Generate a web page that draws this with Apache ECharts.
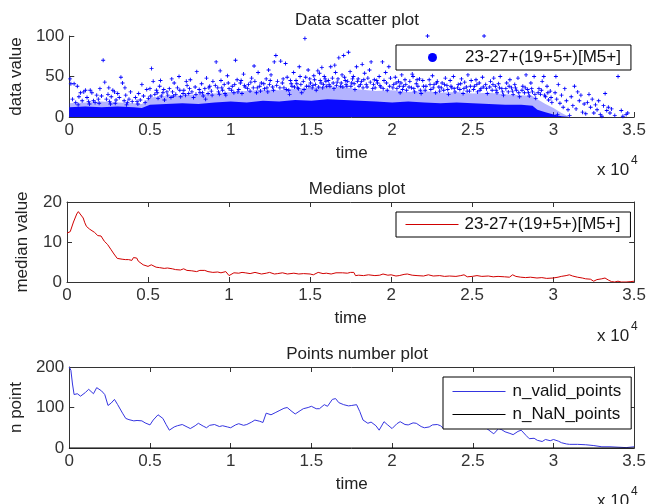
<!DOCTYPE html>
<html><head><meta charset="utf-8">
<script src="https://cdn.jsdelivr.net/npm/echarts@6/dist/echarts.min.js"></script>
<style>html,body{margin:0;padding:0;background:#fff}#c{width:649px;height:504px}</style>
</head><body><div id="c"></div>
<script>
// ---------- data ----------
const seriesLabel = '23-27+(19+5+)[M5+]';
const titles = ['Data scatter plot', 'Medians plot', 'Points number plot'];
const yNames = ['data value', 'median value', 'n point'];
const xName = 'time';

// dense lower cloud of the scatter (read as envelopes of the solid / speckled blue band)
const bandT    = [0,1000,2000,3000,4000,4500,5000,6000,7000,8000,9000,10000,11000,12000,13000,14000,15000,16000,17000,18000,19000,20000,21000,22000,23000,24000,25000,26000,27000,28000,28700,29000,29500,30000,30500,31000];
const bandCore = [12,13,12,13,12,11,15,16,17,16,18,19,18,20,19,21,20,22,21,20,19,18,19,18,17,18,17,16,15,15,14,9,6,3,1,0];
const bandHalo = [17,18,19,18,17,16,24,26,27,28,29,31,32,34,33,35,36,38,37,34,32,33,31,32,30,31,29,30,28,27,26,22,16,11,5,0];

// individual scattered points [time, value]
const scatterPts = [
[50,47],[100,41],[300,41],[500,38],[200,22],[700,30],[900,31],[400,18],[800,20],[600,25],[1000,33],
[1100,24],[1300,33],[1400,30],[1500,20],[1700,27],[1800,22],[2000,26],[1200,19],[1600,18],[1900,35],
[2100,70],[2200,43],[3000,29],[3200,49],[3300,42],[2800,31],
[2300,22],[2400,28],[2500,19],[2600,25],[2700,33],[2900,21],[2450,36],[2850,17],
[3100,24],[3400,20],[3500,27],[3600,18],[3700,22],[3800,31],[3900,19],[3450,36],
[4100,24],[4200,19],[4300,29],[4400,21],[4600,26],[4700,18],[4800,34],[4900,23],[4500,40],
[5100,60],[5200,44],[5000,35],
[5300,28],[5400,33],[5500,23],[5600,38],[5700,26],[5800,30],[5900,21],[5650,45],
[6800,50],[6100,27],[6200,35],[6300,24],[6400,31],[6500,42],[6600,28],[6700,36],[6900,25],[6350,47],
[7100,33],[7200,27],[7300,39],[7400,29],[7500,46],[7600,31],[7700,24],[7800,37],[7900,56],[7250,44],
[8100,30],[8200,41],[8300,26],[8400,35],[8500,48],[8600,29],[8700,38],[8800,32],[8900,44],[8450,22],
[9100,68],[9200,36],[9300,28],[9400,45],[9500,33],[9600,40],[9700,27],[9800,51],[9900,35],[9350,57],
[10300,70],[10100,38],[10200,30],[10400,46],[10500,34],[10600,42],[10700,29],[10800,53],[10900,37],[10650,45],
[11100,40],[11200,32],[11300,48],[11400,36],[11500,44],[11600,30],[11700,55],[11800,38],[11900,42],[11450,63],
[12800,76],[12700,68],[12100,35],[12200,47],[12300,31],[12400,40],[12500,52],[12600,37],[12900,44],[12350,58],
[13100,69],[13400,66],[13200,42],[13300,36],[13500,49],[13600,33],[13700,45],[13800,38],[13900,55],[13650,28],
[14600,97],[14800,58],[14100,41],[14200,35],[14300,50],[14400,30],[14500,44],[14700,38],[14900,47],[14250,62],
[15500,54],[15100,39],[15200,46],[15300,33],[15400,57],[15600,42],[15700,36],[15800,50],[15900,44],[15650,61],
[16200,62],[16700,73],[16100,40],[16300,48],[16400,35],[16500,55],[16600,43],[16800,38],[16900,52],[16450,64],
[17300,80],[17000,76],[17100,45],[17200,38],[17400,56],[17500,42],[17600,50],[17700,34],[17800,62],[17900,47],
[18700,68],[18100,44],[18200,36],[18300,54],[18400,40],[18500,48],[18600,58],[18800,35],[18900,46],[18150,65],
[19400,68],[19800,62],[19100,42],[19200,50],[19300,37],[19500,45],[19600,55],[19700,33],[19900,48],
[20100,40],[20200,49],[20300,35],[20400,44],[20500,30],[20600,52],[20700,38],[20800,46],[20900,33],[20550,42],
[21100,44],[21200,36],[21300,50],[21400,31],[21500,41],[21600,38],[21700,47],[21800,29],[21900,45],[21250,53],
[22200,100],[22100,38],[22300,46],[22400,34],[22500,51],[22600,40],[22700,30],[22800,44],[22900,37],
[23100,42],[23200,33],[23300,48],[23400,39],[23500,28],[23600,45],[23700,36],[23800,50],[23900,31],
[24100,40],[24200,34],[24300,47],[24400,29],[24500,43],[24600,37],[24700,52],[24800,32],[24900,45],
[25700,100],[25100,38],[25200,46],[25300,31],[25400,42],[25500,35],[25600,49],[25800,40],[25900,29],
[26100,44],[26200,33],[26300,48],[26400,38],[26500,30],[26600,41],[26700,50],[26800,35],[26900,27],
[27100,42],[27200,31],[27300,46],[27400,36],[27500,28],[27600,40],[27700,33],[27800,48],[27900,25],
[28100,38],[28200,30],[28300,52],[28400,34],[28500,26],[28600,42],[28700,31],[28800,50],[28900,23],
[29100,35],[29200,28],[29300,44],[29400,50],[29500,25],[29600,38],[29700,21],[29800,32],[29900,18],
[30100,30],[30200,22],[30300,40],[30400,17],[30500,27],[30600,12],[30700,35],[30800,20],[30900,9],[30150,50],
[31500,31],[31100,25],[31200,14],[31300,38],[31400,10],[31600,20],[31700,27],[31800,6],[31900,16],
[32200,28],[32100,18],[32300,12],[32400,22],[32500,5],[32600,15],[32700,9],[32800,20],[32900,3],
[33200,29],[33100,14],[33300,8],[33400,12],[33500,5],[33600,10],[33800,2],[34000,50],
[34200,8],[34500,3],[34600,5],[30250,3],[31000,2],[32000,4],[33000,1],[34300,1],
[550,15],[1250,16],[1850,17],[2550,16],[3550,15],[4250,16],
[5050,26],[5450,30],[5850,34],[6050,31],[6450,26],[6850,33],[7050,29],[7450,35],[7850,28],[8050,34],[8250,30],[8650,36],[8850,27],[9050,39],[9250,31],[9450,36],[9650,29],[9850,42],
[10050,33],[10250,40],[10450,31],[10850,39],[11050,35],[11250,43],[11650,36],[11850,32],[12050,41],[12250,36],[12450,45],[12650,33],[12850,39],[13050,36],[13250,47],[13450,34],[13750,41],[13950,37],
[14050,45],[14150,36],[14350,40],[14550,34],[14650,49],[14850,38],[14950,42],[15050,36],[15150,51],[15250,40],[15450,37],[15550,45],[15750,40],[15850,47],[15950,38],
[16050,45],[16150,38],[16350,42],[16550,39],[16650,47],[16850,42],[16950,37],[17050,49],[17150,40],[17250,44],[17450,38],[17550,47],[17650,41],[17850,44],[17950,38],
[18050,40],[18250,46],[18450,37],[18650,43],[18850,40],[18950,36],[19050,45],[19250,39],[19450,35],[19650,42],[19850,38],
[20050,36],[20250,42],[20450,38],[20650,34],[20850,40],[21050,37],[21350,35],[21550,46],[21750,33],[21950,38],
[22050,33],[22350,40],[22550,36],[22750,42],[22950,32],[23050,36],[23250,40],[23450,34],[23650,38],[23850,35],
[24050,36],[24250,41],[24450,35],[24650,32],[24850,38],[25050,34],[25250,40],[25450,33],[25650,37],[25850,35],
[26050,37],[26250,40],[26450,33],[26650,36],[26850,31],[27050,35],[27250,38],[27450,32],[27650,36],[27850,30],
[28050,33],[28250,36],[28450,30],[28650,35],[28850,28],[29050,30],[29250,33],[29450,27],[29650,30],[29850,24]
];

const medianT = [0,200,400,600,700,800,1000,1100,1200,1400,1500,1700,1800,1900,2000,2100,2200,2300,2400,2500,2600,2700,2800,2900,3000,3100,3200,3400,3600,3800,3900,4000,4100,4200,4300,4400,4500,4700,4800,5000,5200,5300,5500,5700,6000,6200,6500,6700,7000,7200,7400,7500,7700,7800,8000,8200,8500,8700,9000,9300,9500,9800,9900,10000,10100,10300,10600,10800,11000,11300,11600,12000,12300,12500,12800,13000,13300,13600,14000,14300,14600,15000,15200,15500,15800,16000,16300,16600,17000,17300,17500,17700,17800,18000,18300,18600,19000,19300,19500,19800,20000,20300,20500,20800,21000,21300,21600,22000,22300,22600,23000,23300,23600,24000,24300,24500,24700,25000,25300,25600,26000,26300,26600,27000,27300,27500,27700,28000,28300,28600,29000,29300,29600,30000,30300,30500,30800,31000,31200,31500,31800,32000,32300,32500,32700,33000,33200,33400,33600,33800,34000,34200,34500,34800,35000];
const medianV = [12.2,12.6,15,17,17.6,17.2,16,14.8,13.9,13.2,13,12.4,12.2,11.6,11.4,11.5,11.3,10.2,10.0,9.4,8.9,8.2,7.8,7.0,6.5,5.9,5.6,5.7,5.6,5.6,5.3,5.4,6.1,5.8,6.0,5.2,4.7,4.3,4.2,3.9,4.3,3.9,3.7,3.6,3.4,3.5,3.3,3.1,3.0,3.3,2.9,2.6,2.8,3.1,2.6,2.9,2.9,2.6,2.4,2.5,2.3,2.6,2.5,1.6,2.0,2.3,2.2,2.4,2.3,2.1,2.4,2.0,2.2,2.4,2.0,2.1,2.3,2.0,2.2,2.0,2.1,2.0,1.8,2.4,2.1,2.2,2.0,2.3,2.3,2.2,2.4,2.4,1.6,1.7,1.6,1.8,1.6,1.7,2.0,1.7,1.8,1.5,1.6,1.9,2.0,1.7,1.6,1.5,1.8,1.5,1.6,1.4,1.5,1.4,1.6,1.8,1.3,1.4,1.6,1.4,1.5,1.3,1.4,1.3,1.2,1.8,1.4,1.2,1.1,1.2,1.0,1.1,0.9,1.0,1.2,1.4,1.6,1.8,1.5,1.2,1.0,0.8,0.7,0.2,0.6,0.8,1.0,0.5,0.1,0,0.2,0,0,0.1,0.2];

const validT = [0,100,200,300,500,700,1000,1200,1500,1700,2000,2200,2400,2600,2800,3000,3300,3500,3700,4000,4200,4500,4700,5000,5200,5500,5800,6000,6200,6500,6700,7000,7300,7500,7800,8000,8300,8500,8700,9000,9300,9500,9800,10000,10300,10500,10800,11000,11300,11500,11800,12000,12200,12500,12800,13000,13300,13500,13800,14000,14300,14500,14800,15000,15300,15500,15800,16000,16300,16500,16700,17000,17300,17500,17800,18000,18200,18500,18700,19000,19200,19500,19700,20000,20300,20500,20800,21000,21300,21500,21800,22000,22300,22500,22800,23000,23200,23500,23700,24000,24300,24500,24800,25000,25300,25500,25800,26000,26300,26600,26800,27000,27300,27500,27800,28000,28300,28500,28800,29000,29300,29500,29800,30000,30300,30500,30800,31000,31500,32000,32500,33000,33500,34000,34500,35000];
const validV = [200,192,158,132,134,128,137,145,134,149,141,132,105,111,120,107,86,73,70,67,68,67,62,57,69,82,73,58,44,52,55,58,52,48,55,61,54,50,56,58,53,55,52,50,57,60,56,58,64,69,66,63,86,82,88,92,98,100,90,84,92,97,100,103,97,97,107,103,120,122,112,107,104,105,107,90,69,61,64,55,44,65,58,48,60,65,58,57,62,61,53,50,52,57,58,55,48,50,62,61,58,62,56,58,52,52,50,44,35,48,45,40,36,33,41,44,31,23,24,19,16,21,18,21,17,13,10,9,9,8,6,3,3,2,1,3];
const nanT = [0, 35000];
const nanV = [0, 0];
const validLabel = 'n_valid_points';
const nanLabel = 'n_NaN_points';

const xTickMax = 35000, xTickStep = 5000;
const yRanges = [[0,100,50],[0,20,10],[0,200,100]];

// ---------- chart ----------
const FONT = "'Liberation Sans', Arial, Helvetica, sans-serif";
const FS = 17;
const AX = '#333';
const VALID_COLOR = '#3535e0';
const zip = (a, b) => a.map((v, i) => [v, b[i]]);
const grids = [
  {left: 67, top: 36, width: 570, height: 81},
  {left: 67, top: 202, width: 570, height: 80},
  {left: 67, top: 367, width: 570, height: 81}
];
function xAx(g, pos, labels) {
  return {
    type: 'value', gridIndex: g, position: pos, min: 0, max: xTickMax, interval: xTickStep,
    name: labels ? xName : '', nameLocation: 'middle', nameGap: 28,
    nameTextStyle: {fontFamily: FONT, fontSize: FS, color: '#222'},
    axisLine: {show: true, onZero: false, lineStyle: {color: AX, width: 1}},
    axisTick: {show: true, inside: true, length: 5, lineStyle: {color: AX}},
    axisLabel: {show: labels, margin: 5, fontFamily: FONT, fontSize: FS, color: AX, formatter: v => String(v / 10000)},
    splitLine: {show: false}
  };
}
function yAx(g, pos, labels, r, gap) {
  return {
    type: 'value', gridIndex: g, position: pos, min: r[0], max: r[1], interval: r[2],
    name: labels ? yNames[g] : '', nameLocation: 'middle', nameGap: gap, nameRotate: 90,
    nameTextStyle: {fontFamily: FONT, fontSize: FS, color: '#222'},
    axisLine: {show: true, onZero: false, lineStyle: {color: AX, width: 1}},
    axisTick: {show: true, inside: true, length: 5, lineStyle: {color: AX}},
    axisLabel: {show: labels, margin: 5, fontFamily: FONT, fontSize: FS, color: AX},
    splitLine: {show: false}
  };
}
const plusPath = 'path://M-1,-0.22L1,-0.22L1,0.22L-1,0.22Z M-0.22,-1L0.22,-1L0.22,1L-0.22,1Z';
const legendBase = {
  borderColor: '#000', borderWidth: 1, backgroundColor: '#fff', borderRadius: 0,
  textStyle: {fontFamily: FONT, fontSize: FS, color: '#111', lineHeight: 19},
  selectedMode: false
};
const option = {
  backgroundColor: '#fff',
  animation: false,
  title: titles.map((t, i) => ({
    text: t, left: 352, textAlign: 'center', top: [7, 176, 341][i],
    textStyle: {fontFamily: FONT, fontSize: FS, fontWeight: 'normal', color: '#222'}
  })),
  grid: grids,
  xAxis: [xAx(0, 'bottom', true), xAx(1, 'bottom', true), xAx(1, 'top', false), xAx(2, 'bottom', true), xAx(2, 'top', false)],
  yAxis: [yAx(0, 'left', true, yRanges[0], 44), yAx(1, 'left', true, yRanges[1], 36), yAx(1, 'right', false, yRanges[1], 0),
          yAx(2, 'left', true, yRanges[2], 44), yAx(2, 'right', false, yRanges[2], 0)],
  legend: [
    Object.assign({}, legendBase, {
      left: 396, top: 45, padding: [3, 10, 3, 32], icon: 'circle', itemWidth: 9, itemHeight: 9,
      data: ['scatter'], formatter: () => seriesLabel,
      textStyle: Object.assign({}, legendBase.textStyle, {padding: [0, 0, 0, 23]})
    }),
    Object.assign({}, legendBase, {
      left: 396, top: 212, padding: [3, 10, 3, 9], itemWidth: 53, itemHeight: 14,
      itemStyle: {opacity: 0}, lineStyle: {width: 1},
      data: ['median'], formatter: () => seriesLabel,
      textStyle: Object.assign({}, legendBase.textStyle, {padding: [0, 0, 0, 1]})
    }),
    Object.assign({}, legendBase, {
      left: 443, top: 377, padding: [5, 10, 5, 9], orient: 'vertical', itemGap: 4, itemWidth: 53, itemHeight: 14,
      itemStyle: {opacity: 0}, lineStyle: {width: 1},
      data: [validLabel, nanLabel],
      textStyle: Object.assign({}, legendBase.textStyle, {padding: [0, 0, 0, 2]})
    })
  ],
  series: [
    {type: 'line', name: 'halo', xAxisIndex: 0, yAxisIndex: 0, data: zip(bandT, bandHalo), symbol: 'none', silent: true,
     lineStyle: {width: 0}, areaStyle: {color: 'rgba(40,40,255,0.5)'}, z: 1},
    {type: 'line', name: 'core', xAxisIndex: 0, yAxisIndex: 0, data: zip(bandT, bandCore), symbol: 'none', silent: true,
     lineStyle: {width: 0}, areaStyle: {color: '#0a0aff', opacity: 1}, z: 2},
    {type: 'scatter', name: 'scatter', xAxisIndex: 0, yAxisIndex: 0, data: scatterPts, symbol: plusPath, symbolSize: 4,
     itemStyle: {color: '#0000ff', opacity: 1}, z: 3},
    {type: 'line', name: 'median', xAxisIndex: 1, yAxisIndex: 1, data: zip(medianT, medianV), symbol: 'none',
     lineStyle: {color: '#d00000', width: 1}, itemStyle: {color: '#d00000'}},
    {type: 'line', name: validLabel, xAxisIndex: 3, yAxisIndex: 3, data: zip(validT, validV), symbol: 'none',
     lineStyle: {color: VALID_COLOR, width: 1}, itemStyle: {color: VALID_COLOR}},
    {type: 'line', name: nanLabel, xAxisIndex: 3, yAxisIndex: 3, data: zip(nanT, nanV), symbol: 'none',
     lineStyle: {color: '#000', width: 1}, itemStyle: {color: '#000'}}
  ],
  graphic: [155, 321, 486].map((y) => ({
    type: 'group', left: 597, top: y,
    children: [
      {type: 'text', left: 0, top: 5, style: {text: 'x 10', font: FS + 'px ' + FONT, fill: '#222'}},
      {type: 'text', left: 34, top: -2, style: {text: '4', font: '12px ' + FONT, fill: '#222'}}
    ]
  }))
};
const chart = echarts.init(document.getElementById('c'), null, {renderer: 'canvas'});
chart.setOption(option);
</script>
</body></html>
